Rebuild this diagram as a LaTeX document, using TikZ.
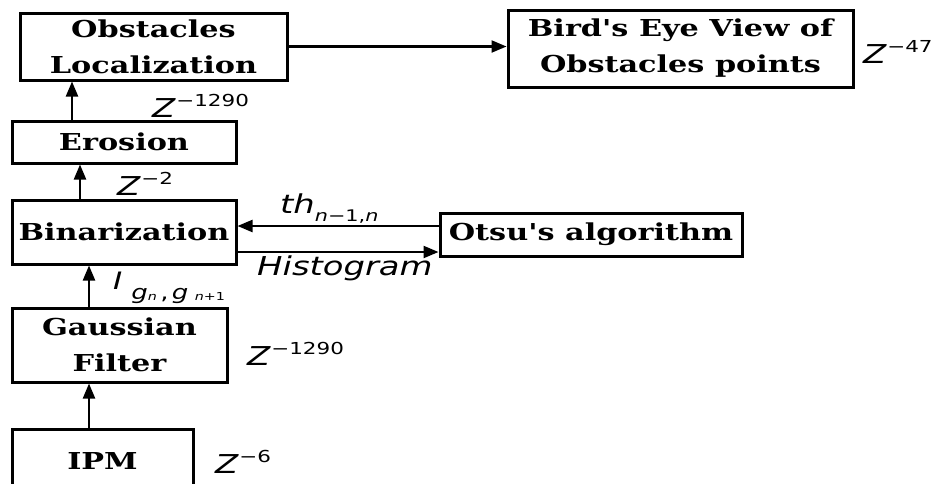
\documentclass[tikz,border=0pt]{standalone}
\usepackage{fontspec}
\usetikzlibrary{arrows.meta}
\newfontfamily\boxfont[FakeStretch=1.3]{DejaVu Serif}
\newfontfamily\labfont[FakeStretch=1.3]{DejaVu Sans}
\newcommand\zlab[2]{{\labfont\fontsize{26}{26}\selectfont\itshape Z}\kern#2\raisebox{11pt}{\labfont\fontsize{16.5}{16.5}\selectfont −#1}}
\tikzset{
  blk/.style={draw, line width=3pt, align=center, inner sep=0pt,
    font=\boxfont\bfseries\fontsize{23.3}{36}\selectfont},
  arr/.style={line width=2.2pt, -{Triangle[length=15pt,width=12pt]}},
  lab/.style={anchor=base west, inner sep=0pt}
}
\begin{document}
\begin{tikzpicture}[x=1pt,y=-1pt]
\useasboundingbox (0,0) rectangle (939,483);
\begin{scope}
\clip (0,0) rectangle (939,483);
\node[blk, minimum width=267pt, minimum height=67pt] (obs) at (153.5,46.5) {Obstacles\\Localization};
\node[blk, minimum width=224pt, minimum height=42pt] (ero) at (124,142) {Erosion};
\node[blk, minimum width=224pt, minimum height=64pt] (bin) at (124,232) {Binarization};
\node[blk, minimum width=215pt, minimum height=74pt] (gau) at (119.5,345) {Gaussian\\Filter};
\node[blk, minimum width=181pt, minimum height=64pt] (ipm) at (102.5,461) {IPM};
\node[blk, minimum width=345pt, minimum height=77pt] (bev) at (680.5,48.5) {Bird's Eye View of\\Obstacles points};
\node[blk, minimum width=302pt, minimum height=43pt] (ots) at (591,234.5) {Otsu's algorithm};
\end{scope}
\coordinate (c1) at (72,0);
\coordinate (c2) at (80,0);
\coordinate (c3) at (89,0);
\coordinate (r1) at (0,226);
\coordinate (r2) at (0,252);
\draw[arr] (ero.north -| c1) -- (obs.south -| c1);
\draw[arr] (bin.north -| c2) -- (ero.south -| c2);
\draw[arr] (gau.north -| c3) -- (bin.south -| c3);
\draw[arr] (ipm.north -| c3) -- (gau.south -| c3);
\draw[arr] (obs.east) -- (bev.west |- obs.east);
\draw[arr] (ots.west |- r1) -- (bin.east |- r1);
\draw[arr] (bin.east |- r2) -- (ots.west |- r2);
\node[lab] (z1) at (152,117) {\zlab{1290}{1pt}};
\node[lab] (z2) at (117,195) {\zlab{2}{1pt}};
\node[lab] (z3) at (247,365) {\zlab{1290}{1pt}};
\node[lab] (z4) at (215,473) {\zlab{6}{1pt}};
\node[lab] (z5) at (863,63) {\zlab{47}{1pt}};
\node[lab] (th) at (280,213) {\labfont\itshape\fontsize{26}{26}\selectfont th\raisebox{-8pt}{\fontsize{16}{16}\selectfont n\upshape−1,\itshape n}};
\node[lab] (hist) at (257,275) {\labfont\itshape\fontsize{26}{26}\selectfont Histogram};
\node[lab] (ig) at (113,289) {\labfont\itshape\fontsize{24}{24}\selectfont I\kern9pt\raisebox{-10pt}{\fontsize{20}{20}\selectfont g\raisebox{-1.5pt}{\fontsize{11}{11}\selectfont n}\upshape\,,\,\itshape g\raisebox{-1.5pt}{\fontsize{11}{11}\selectfont\, n\upshape +1}}};
\end{tikzpicture}
\end{document}
